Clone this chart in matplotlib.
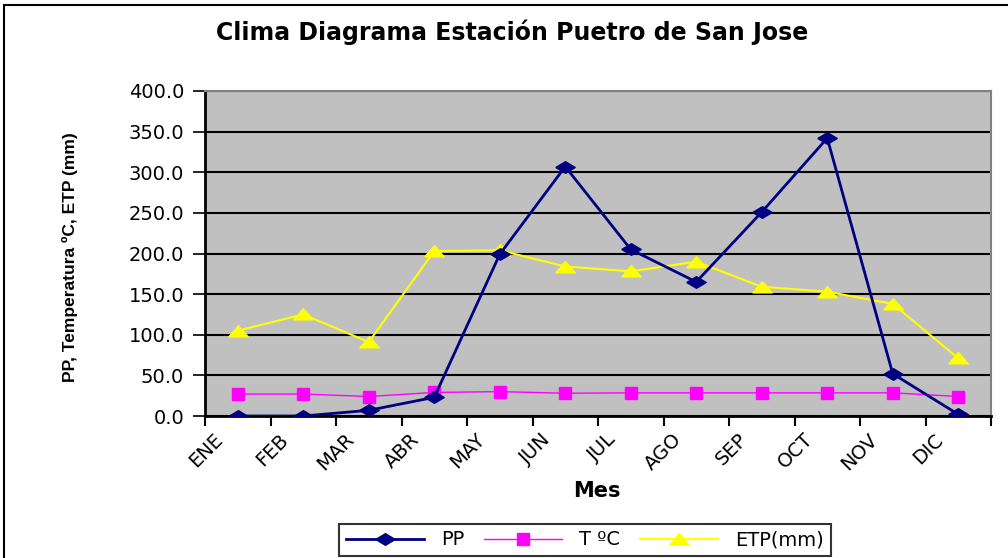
import matplotlib
matplotlib.use('Agg')
import matplotlib.pyplot as plt
import matplotlib.transforms as mtransforms
from matplotlib.patches import Rectangle
import numpy as np

# monthly data
meses = ['ENE', 'FEB', 'MAR', 'ABR', 'MAY', 'JUN', 'JUL', 'AGO', 'SEP', 'OCT', 'NOV', 'DIC']
pp = [0.0, 0.0, 7.0, 23.0, 199.0, 307.0, 205.0, 165.0, 251.0, 342.0, 52.0, 2.0]
temp = [27.0, 27.0, 24.0, 29.0, 30.0, 28.0, 28.5, 28.5, 28.5, 28.5, 28.5, 24.0]
etp = [105.0, 125.0, 91.0, 203.0, 204.0, 184.0, 178.0, 190.0, 159.0, 153.0, 138.0, 71.0]
yticks = [0, 50, 100, 150, 200, 250, 300, 350, 400]

plt.rcParams['font.family'] = ['DejaVu Sans']

fig = plt.figure(figsize=(10.08, 5.58), dpi=100)
ax = fig.add_axes([205/1008, 1 - 416/558, (991-205)/1008, (416-91)/558])
ax.set_facecolor('#C0C0C0')

x = np.arange(len(meses))
diamond = [(-1, 0), (0, 0.6), (1, 0), (0, -0.6), (-1, 0)]
tri = [(-1, -0.55), (1, -0.55), (0, 0.6), (-1, -0.55)]

ax.plot(x, pp, color='#000080', lw=2, marker=diamond, ms=14, label='PP', zorder=4)
ax.plot(x, temp, color='#FF00FF', lw=1, marker='s', ms=8.5, label='T ºC', zorder=3)
ax.plot(x, etp, color='#FFFF00', lw=1.5, marker=tri, ms=14, label='ETP(mm)', zorder=3)

ax.set_xlim(-0.5, 11.5)
ax.set_ylim(0, 400)
ax.set_yticks(yticks)
ax.set_yticklabels(['%.1f' % v for v in yticks], fontsize=14)
ax.yaxis.grid(True, color='black', lw=1.5)
ax.set_axisbelow(True)
ax.tick_params(axis='y', direction='out', length=9, width=1.2, pad=6)

ax.set_xticks(x)
ax.set_xticklabels(meses, rotation=45, ha='right', va='top', fontsize=14)
ax.set_xticks(np.arange(-0.5, 12, 1), minor=True)
ax.tick_params(axis='x', which='major', length=0, pad=10)
ax.tick_params(axis='x', which='minor', direction='out', length=7, width=1.5)
off = mtransforms.ScaledTranslation(-11/100, 0, fig.dpi_scale_trans)
for lbl in ax.get_xticklabels():
    lbl.set_transform(lbl.get_transform() + off)

for s in ['left', 'bottom']:
    ax.spines[s].set_linewidth(2)
    ax.spines[s].set_color('black')
for s in ['top', 'right']:
    ax.spines[s].set_linewidth(1.5)
    ax.spines[s].set_color('#808080')

fig.text(512/1008, 1 - 32/558, 'Clima Diagrama Estación Puetro de San Jose',
         ha='center', va='center', fontsize=17, fontweight='bold')
fig.text(70/1008, 1 - 257/558, 'PP, Temperatura ºC, ETP (mm)', rotation=90,
         ha='center', va='center', fontsize=12.5, fontweight='bold',
         family='Liberation Sans')
fig.text(597/1008, 1 - 491/558, 'Mes', ha='center', va='center',
         fontsize=15, fontweight='bold')

leg = fig.legend(loc='lower center', bbox_to_anchor=(585/1008, -8/558), ncol=3,
                 fontsize=14, frameon=True, fancybox=False, edgecolor='black',
                 handlelength=4.0, handletextpad=0.9, columnspacing=1.0, borderpad=0.35)
leg.get_frame().set_linewidth(1.5)

fig.patches.append(Rectangle((4/1008, -0.05), 1.1, 1 - 5/558 + 0.05, transform=fig.transFigure,
                             fill=False, edgecolor='black', lw=1.5, zorder=0))

fig.savefig('out.png', dpi=100, facecolor='white')
